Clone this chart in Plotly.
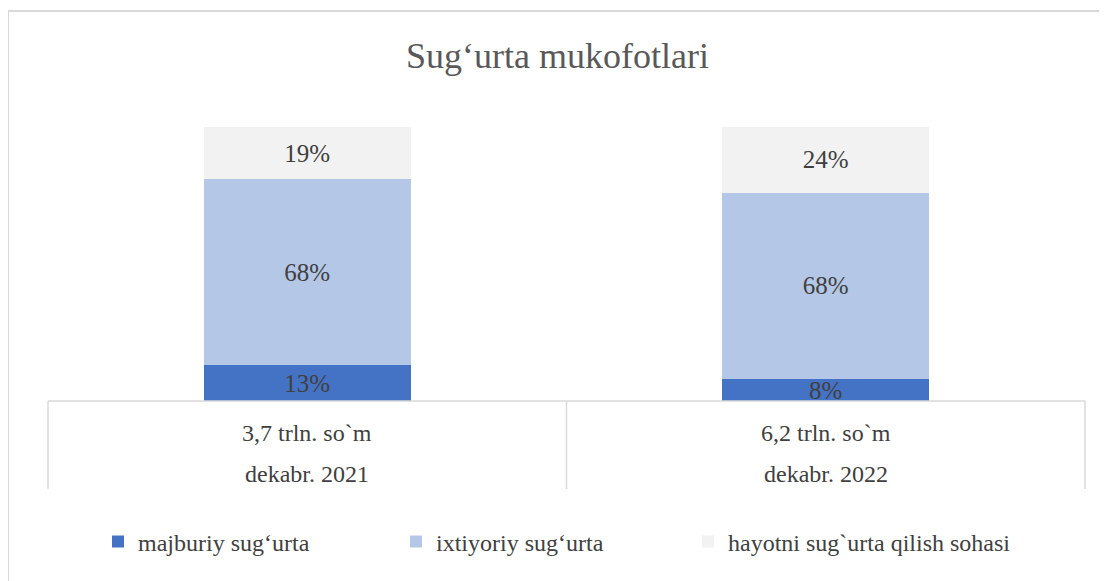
import plotly.graph_objects as go

# ---- data ----
categories = ["dekabr. 2021", "dekabr. 2022"]
totals = ["3,7 trln. so`m", "6,2 trln. so`m"]
majburiy = [13, 8]
ixtiyoriy = [68, 68]
hayotni = [19, 24]
series_names = ["majburiy sug‘urta", "ixtiyoriy sug‘urta", "hayotni sug`urta qilish sohasi"]
series_colors = ["#4472C4", "#B4C7E7", "#F2F2F2"]
title_text = "Sug‘urta mukofotlari"

# page body has an 8px margin: work in screenshot pixels, convert to figure pixels
OX, OY = 8, 8
W, H = 1107 - OX, 581 - OY
PLOT_L, PLOT_R, PLOT_T, PLOT_B = 48, 1085, 127, 401  # screenshot pixels
L, R, T, B = PLOT_L - OX, (OX + W) - PLOT_R, PLOT_T - OY, (OY + H) - PLOT_B
PW, PH = PLOT_R - PLOT_L, PLOT_B - PLOT_T


def px_x(px):
    return (px - PLOT_L) / PW


def px_y(py):
    return (PLOT_B - py) / PH


SERIF = "Liberation Serif, Times New Roman, serif"
legend_ids = ["legend", "legend2", "legend3"]
legend_left_px = [98, 396, 688]

fig = go.Figure()
for name, vals, col, lid in zip(series_names, [majburiy, ixtiyoriy, hayotni], series_colors, legend_ids):
    fig.add_trace(go.Bar(
        x=categories, y=vals, name=name, legend=lid,
        marker=dict(color=col, line=dict(width=0)),
        text=[f"{v}%" for v in vals],
        textposition="inside", insidetextanchor="middle", textangle=0,
        textfont=dict(family=SERIF, size=25, color="#404040"),
        cliponaxis=False,
    ))

shapes = []
# outer border
shapes.append(dict(type="rect", xref="paper", yref="paper",
                   x0=px_x(8), x1=px_x(1115), y0=px_y(600), y1=px_y(11),
                   line=dict(color="#D9D9D9", width=2), fillcolor="rgba(0,0,0,0)", layer="below"))
# category table lines
shapes.append(dict(type="line", xref="paper", yref="paper", x0=0, x1=1, y0=0, y1=0,
                   line=dict(color="#D9D9D9", width=1.5)))
for xp in [0, 0.5, 1]:
    shapes.append(dict(type="line", xref="paper", yref="paper", x0=xp, x1=xp,
                       y0=0, y1=px_y(489), line=dict(color="#D9D9D9", width=1.5)))

annotations = []
for c, t in zip(categories, totals):
    annotations.append(dict(x=c, xref="x", y=px_y(433), yref="paper", text=t, showarrow=False,
                            font=dict(family=SERIF, size=24, color="#404040"), yanchor="middle"))
    annotations.append(dict(x=c, xref="x", y=px_y(474), yref="paper", text=c, showarrow=False,
                            font=dict(family=SERIF, size=24, color="#404040"), yanchor="middle"))

legend_common = dict(orientation="h", yanchor="middle", xanchor="left",
                     font=dict(family=SERIF, size=24, color="#404040"),
                     itemwidth=30, bgcolor="rgba(0,0,0,0)")
legends = {}
for lid, lx in zip(legend_ids, legend_left_px):
    legends[lid] = dict(legend_common, x=px_x(lx), y=px_y(542))

fig.update_layout(
    width=W, height=H,
    margin=dict(l=L, r=R, t=T, b=B),
    paper_bgcolor="white", plot_bgcolor="white",
    barmode="stack", bargap=0.6,
    title=dict(text=title_text, x=0.5, xanchor="center", y=1 - (55 - OY) / H, yanchor="middle",
               font=dict(family=SERIF, size=36, color="#595959")),
    xaxis=dict(showticklabels=False, showgrid=False, zeroline=False, showline=False, ticks=""),
    yaxis=dict(range=[0, 100], visible=False),
    uniformtext=dict(minsize=25, mode="show"),
    showlegend=True,
    shapes=shapes, annotations=annotations,
    **legends,
)

fig.write_html("out.html")
